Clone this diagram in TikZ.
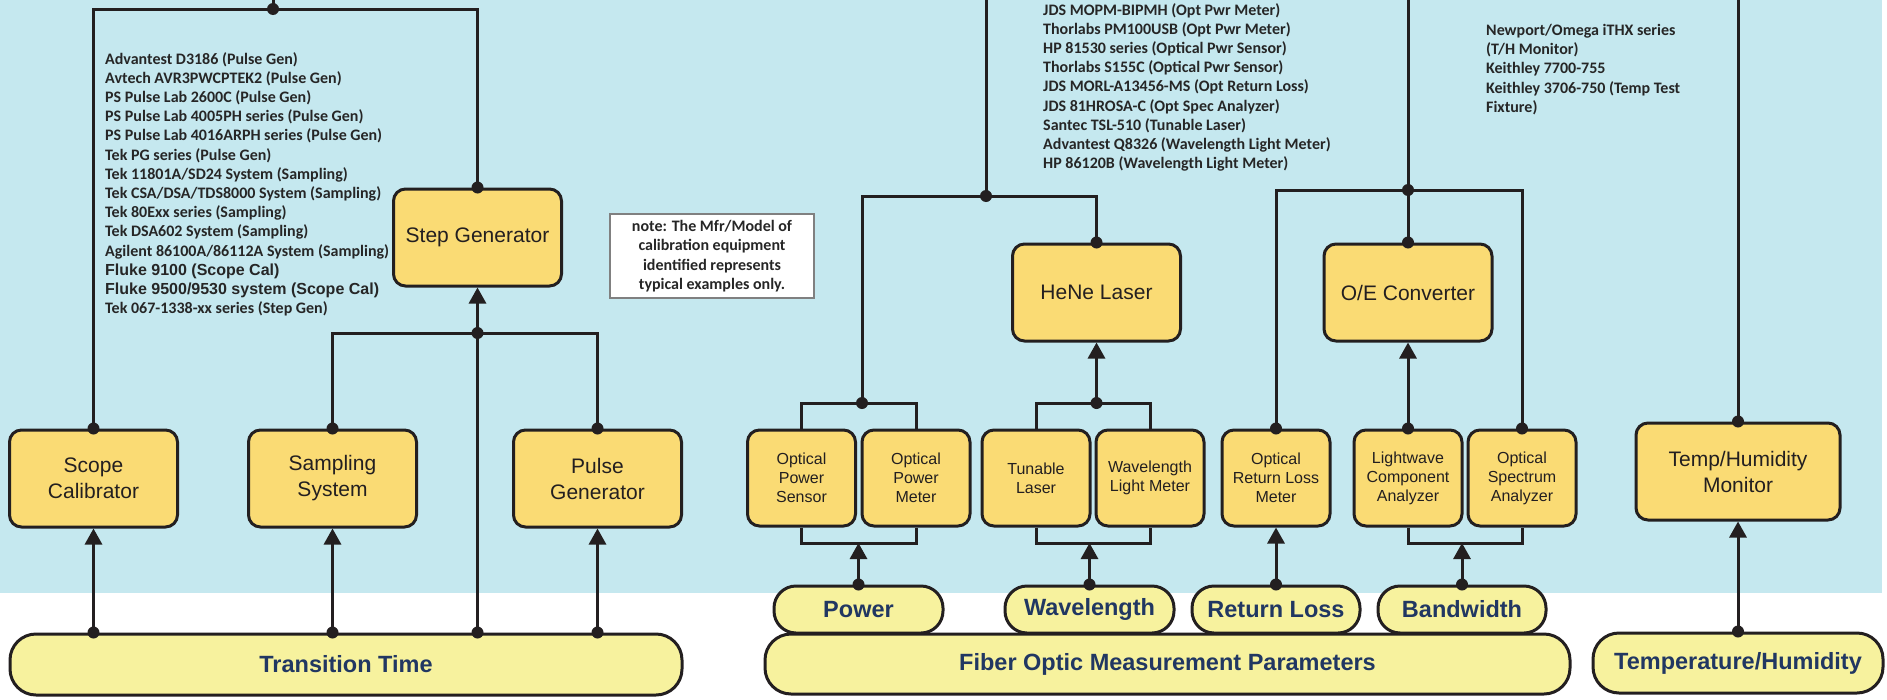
\documentclass[tikz,border=0pt]{standalone}
\usepackage{fontspec}
\setmainfont{Liberation Sans}
\newfontfamily\listfont{Carlito}
\newfontfamily\flukefont{Liberation Sans}
\usepackage{tikz}
\usetikzlibrary{arrows.meta}

\definecolor{bgblue}{RGB}{197,232,239}
\definecolor{boxfill}{RGB}{250,219,116}
\definecolor{pillfill}{RGB}{247,242,158}
\definecolor{inkline}{RGB}{35,31,32}
\definecolor{navy}{RGB}{33,55,98}
\definecolor{listgray}{RGB}{38,38,38}

\begin{document}
\begin{tikzpicture}[x=1pt,y=-1pt,
            calbox/.style={draw=inkline, line width=3pt, fill=boxfill, rounded corners=12pt, minimum width=168pt, minimum height=97pt, inner sep=0pt, align=center, text=inkline, font=\fontsize{21}{26}\selectfont},
            optbox/.style={calbox, minimum width=108pt, minimum height=96pt, font=\fontsize{16}{19}\selectfont},
            param/.style={draw=inkline, line width=3pt, fill=pillfill, rounded corners=22pt, minimum width=169pt, minimum height=47pt, inner sep=0pt, text=navy, font=\bfseries\fontsize{23.5}{28}\selectfont},
            paramgroup/.style={param, rounded corners=26pt, minimum height=61pt},
            wire/.style={draw=inkline, line width=3pt},
            arr/.style={wire, -{Triangle[width=17pt,length=16pt]}},
            eqlist/.style={anchor=north west, inner sep=0pt, align=left, text=listgray, font=\listfont\bfseries\fontsize{16}{19.2}\selectfont}]
        \useasboundingbox (0,0) rectangle (1887,699);
        \fill[bgblue] (0,0) rectangle (1882,593);

        % transition time
        \node[calbox] (stepgen) at (477.5,237.5) {Step Generator};
        \node[calbox] (scope) at (93.5,478.5) {Scope\\Calibrator};
        \node[calbox] (sampling) at (332.5,478.5) {Sampling\\System};
        \node[calbox] (pulsegen) at (597.5,478.5) {Pulse\\Generator};
        \node[paramgroup, minimum width=672pt] (transition) at (346,664.5) {Transition Time};

        \coordinate (ttin) at (273,0);
        \coordinate (tttop) at (273,9);
        \coordinate (stepj) at (477.5,333);
        \draw[wire] (ttin) -- (tttop);
        \draw[wire] (scope.north) |- (stepgen.north |- tttop) -- (stepgen.north);
        \draw[arr] (stepj) -- (stepgen.south);
        \draw[wire] (sampling.north) |- (stepj) -| (pulsegen.north);
        \draw[wire] (stepj) -- (stepj |- transition.north);
        \foreach \b in {scope,sampling,pulsegen} {
            \draw[arr] (\b.south |- transition.north) -- (\b.south);
            \fill[inkline] (\b.south |- transition.north) circle (6pt);
        }
        \foreach \p in {tttop,scope.north,stepgen.north,sampling.north,pulsegen.north,stepj}
            \fill[inkline] (\p) circle (6pt);
        \fill[inkline] (stepj |- transition.north) circle (6pt);

        \node[eqlist] (pulselist) at (105,52) {Advantest D3186 (Pulse Gen)\\
            Avtech AVR3PWCPTEK2 (Pulse Gen)\\
            PS Pulse Lab 2600C (Pulse Gen)\\
            PS Pulse Lab 4005PH series (Pulse Gen)\\
            PS Pulse Lab 4016ARPH series (Pulse Gen)\\
            Tek PG series (Pulse Gen)\\
            Tek 11801A/SD24 System (Sampling)\\
            Tek CSA/DSA/TDS8000 System (Sampling)\\
            Tek 80Exx series (Sampling)\\
            Tek DSA602 System (Sampling)\\
            Agilent 86100A/86112A System (Sampling)\\
            {\flukefont Fluke 9100 (Scope Cal)}\\
            {\flukefont Fluke 9500/9530 system (Scope Cal)}\\
            Tek 067-1338-xx series (Step Gen)};

        \node[draw=gray, line width=1.2pt, fill=white, minimum width=204pt, minimum height=84pt, inner sep=0pt, align=center, text=listgray, font=\listfont\bfseries\fontsize{16}{19.3}\selectfont] (note) at (712,256)
            {note: The Mfr/Model of\\calibration equipment\\identified represents\\typical examples only.};

        % fiber optic
        \node[calbox] (hene) at (1096.5,292.5) {HeNe Laser};
        \node[calbox] (oeconv) at (1408,292.5) {O/E Converter};
        \node[optbox] (psensor) at (801.5,478) {Optical\\Power\\Sensor};
        \node[optbox] (pmeter) at (916,478) {Optical\\Power\\Meter};
        \node[optbox] (tunable) at (1036,478) {Tunable\\Laser};
        \node[optbox] (wlmeter) at (1150,478) {Wavelength\\Light Meter};
        \node[optbox] (rlmeter) at (1276,478) {Optical\\Return Loss\\Meter};
        \node[optbox] (lwca) at (1408,478) {Lightwave\\Component\\Analyzer};
        \node[optbox] (osa) at (1522,478) {Optical\\Spectrum\\Analyzer};
        \node[paramgroup, minimum width=805pt, minimum height=60pt] (fiber) at (1167.5,664) {Fiber Optic Measurement Parameters};
        \node[param] (power) at (858.5,609.5) {Power};
        \node[param] (wavelength) at (1089.5,609.5) {Wavelength};
        \node[param, minimum width=168pt] (retloss) at (1276,609.5) {Return Loss};
        \node[param, minimum width=168pt] (bandwidth) at (1462,609.5) {Bandwidth};

        \coordinate (foin) at (986,0);
        \coordinate (fotop) at (986,196);
        \coordinate (pwrj) at (862,403);
        \coordinate (wlj) at (1096.5,403);
        \coordinate (pwrb) at (858.5,543);
        \coordinate (wlb) at (1089.5,543);
        \coordinate (oein) at (1408,0);
        \coordinate (oej) at (1408,190);
        \coordinate (bwb) at (1462,543);
        \draw[wire] (foin) -- (fotop);
        \draw[wire] (pwrj) |- (fotop) -| (hene.north);
        \draw[wire] (psensor.north) |- (pwrj) -| (pmeter.north);
        \draw[wire] (tunable.north) |- (wlj) -| (wlmeter.north);
        \draw[arr] (wlj) -- (hene.south);
        \draw[wire] (psensor.south) |- (pwrb) -| (pmeter.south);
        \draw[arr] (power.north) -- (pwrb);
        \draw[wire] (tunable.south) |- (wlb) -| (wlmeter.south);
        \draw[arr] (wavelength.north) -- (wlb);
        \draw[arr] (retloss.north) -- (rlmeter.south);
        \draw[wire] (oein) -- (oeconv.north);
        \draw[wire] (rlmeter.north) |- (oej) -| (osa.north);
        \draw[arr] (lwca.north) -- (oeconv.south);
        \draw[wire] (lwca.south) |- (bwb) -| (osa.south);
        \draw[arr] (bandwidth.north) -- (bwb);
        \foreach \p in {fotop,pwrj,wlj,hene.north,oej,oeconv.north,rlmeter.north,lwca.north,osa.north,power.north,wavelength.north,retloss.north,bandwidth.north}
            \fill[inkline] (\p) circle (6pt);

        \node[eqlist] (fiberlist) at (1043,3) {JDS MOPM-BIPMH (Opt Pwr Meter)\\
            Thorlabs PM100USB (Opt Pwr Meter)\\
            HP 81530 series (Optical Pwr Sensor)\\
            Thorlabs S155C (Optical Pwr Sensor)\\
            JDS MORL-A13456-MS (Opt Return Loss)\\
            JDS 81HROSA-C (Opt Spec Analyzer)\\
            Santec TSL-510 (Tunable Laser)\\
            Advantest Q8326 (Wavelength Light Meter)\\
            HP 86120B (Wavelength Light Meter)};

        % temperature / humidity
        \node[calbox, minimum width=204pt] (thmon) at (1738,471.5) {Temp/Humidity\\Monitor};
        \node[paramgroup, minimum width=290pt, minimum height=60pt] (thparam) at (1738,663) {Temperature/Humidity};
        \coordinate (thin) at (1738,0);
        \draw[wire] (thin) -- (thmon.north);
        \draw[arr] (thparam.north) -- (thmon.south);
        \foreach \p in {thmon.north,thparam.north}
            \fill[inkline] (\p) circle (6pt);

        \node[eqlist] (thlist) at (1486,24) {Newport/Omega iTHX series\\
            (T/H Monitor)\\
            Keithley 7700-755\\
            Keithley 3706-750 (Temp Test\\
            Fixture)};
\end{tikzpicture}
\end{document}
